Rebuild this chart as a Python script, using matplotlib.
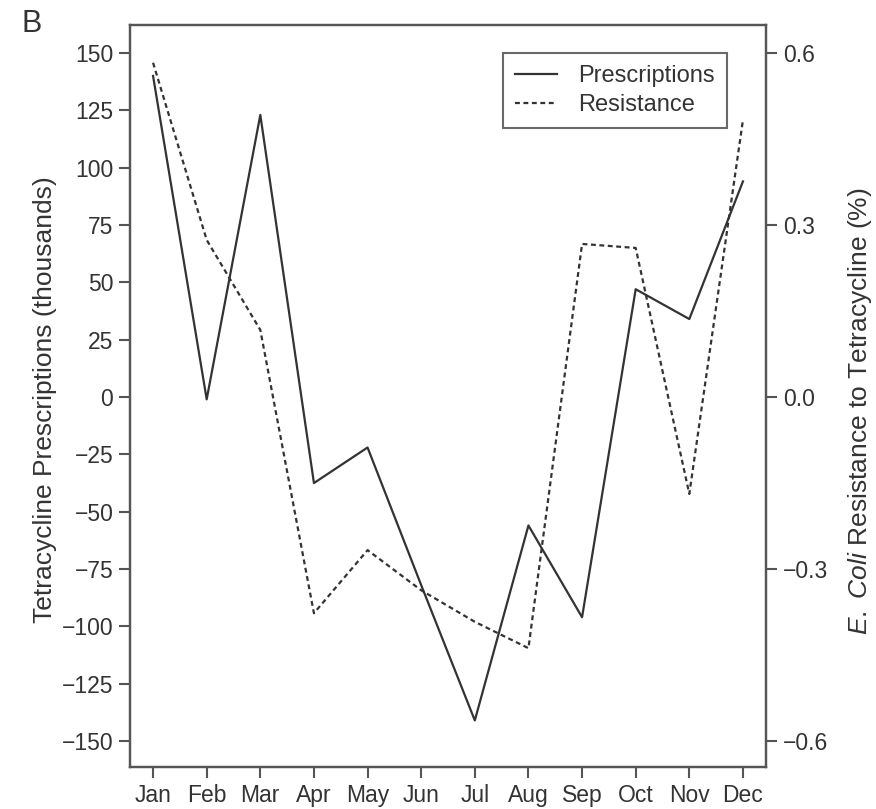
import matplotlib
matplotlib.use("Agg")
import matplotlib.pyplot as plt

plt.rcParams['font.family'] = ['Liberation Sans', 'DejaVu Sans']
plt.rcParams['mathtext.fontset'] = 'custom'
plt.rcParams['mathtext.it'] = 'Liberation Sans:italic'
plt.rcParams['mathtext.rm'] = 'Liberation Sans'

months = ["Jan", "Feb", "Mar", "Apr", "May", "Jun", "Jul", "Aug", "Sep", "Oct", "Nov", "Dec"]
prescriptions = [140, -1, 123, -37.5, -22, -82, -141, -56, -96, 47, 34, 94]
resistance = [0.583, 0.274, 0.117, -0.377, -0.267, -0.337, -0.392, -0.438, 0.267, 0.26, -0.169, 0.483]
left_ticks = [150, 125, 100, 75, 50, 25, 0, -25, -50, -75, -100, -125, -150]
right_ticks = [0.6, 0.3, 0.0, -0.3, -0.6]

fig = plt.figure(figsize=(8.76, 8.09), dpi=100)
ax = fig.add_axes([130/876, 1-767/809, (766-130)/876, (767-25)/809])
ax2 = ax.twinx()

c = '#333333'
x = list(range(len(months)))
l1, = ax.plot(x, prescriptions, color=c, lw=1.6, label='Prescriptions')
l2, = ax2.plot(x, resistance, color=c, lw=1.6, ls=(0, (2.2, 1.6)), label='Resistance')

ax.set_xlim(-0.43, 11.43)
ax.set_ylim(-161.3, 162.2)
ax2.set_ylim(-161.3*0.004, 162.2*0.004)

ax.set_xticks(x)
ax.set_xticklabels(months)
ax.set_yticks(left_ticks)
ax.set_yticklabels([str(t).replace('-', '\u2212') for t in left_ticks])
ax2.set_yticks(right_ticks)
ax2.set_yticklabels([f"{t:.1f}".replace('-', '\u2212') for t in right_ticks])

for a in (ax, ax2):
    a.tick_params(labelsize=16.5, colors='#555555', labelcolor='#333333', length=8, width=1.5,
                  direction='out', pad=4)
    for s in a.spines.values():
        s.set_color('#555555')
        s.set_linewidth(1.6)

ax.set_ylabel('Tetracycline Prescriptions (thousands)', fontsize=19, color='#333333')
ax.yaxis.set_label_coords(-0.114, 0.495)
ax2.set_ylabel(r'$\it{E.\ Coli}$ Resistance to Tetracycline (%)', fontsize=19, color='#333333')
ax2.yaxis.set_label_coords(1.126, 0.48)

leg = ax.legend([l1, l2], ['Prescriptions', 'Resistance'], loc='upper right',
                bbox_to_anchor=(727/876, 1-53/809), bbox_transform=fig.transFigure,
                fontsize=17, frameon=True, fancybox=False, handlelength=1.8,
                borderpad=0.5, labelspacing=0.3, handletextpad=0.9, borderaxespad=0)
leg.get_frame().set_edgecolor('#444444')
leg.get_frame().set_linewidth(1.5)
for t in leg.get_texts():
    t.set_color('#333333')

fig.text(22/876, 1-24/809, 'B', fontsize=22, color='#333333', va='center', ha='left')

fig.savefig('out.png', dpi=100)
